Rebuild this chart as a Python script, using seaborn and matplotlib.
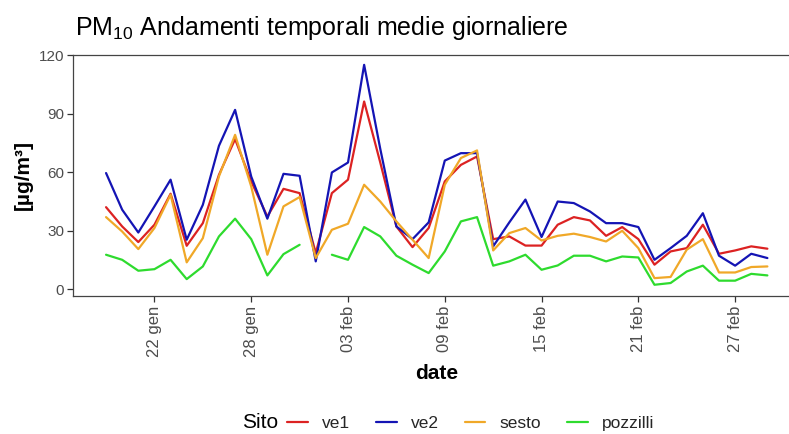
import numpy as np
import pandas as pd
import matplotlib
matplotlib.use("Agg")
import matplotlib.pyplot as plt
import seaborn as sns

# ---------------- data ----------------
start_date = "2020-01-19"
end_date = "2020-02-29"
sites = ["ve1", "ve2", "sesto", "pozzilli"]
colors = ["#DC2222", "#1414B4", "#F0A828", "#2EDB2E"]

ve1 = [42.1, 32.2, 24.2, 33.1, 49.0, 22.3, 33.9, 58.7, 77.0, 55.3, 37.3, 51.5, 49.3,
       18.6, 49.3, 56.2, 96.3, 65.0, 32.2, 21.6, 31.4, 55.3, 63.8, 68.1, 25.7, 27.1, 22.4,
       22.4, 33.1, 37.0, 35.3, 27.4, 31.9, 25.7, 12.6, 19.4, 21.1, 33.1, 18.2, 19.9, 22.0, 20.8]
ve2 = [59.6, 40.8, 29.1, 42.5, 56.2, 25.4, 43.3, 73.6, 92.0, 57.8, 36.2, 59.2, 58.2,
       14.3, 59.9, 65.0, 115.1, 72.0, 32.2, 25.7, 34.3, 66.0, 69.8, 69.8, 22.0, 34.3, 46.0,
       26.8, 45.0, 44.2, 39.9, 33.9, 33.9, 31.9, 15.1, 21.1, 27.4, 39.0, 17.2, 12.1, 18.2, 16.0]
sesto = [37.0, 29.6, 20.6, 31.4, 48.5, 13.8, 26.2, 57.9, 79.2, 52.7, 17.7, 42.5, 47.3,
         16.0, 30.5, 33.6, 53.6, 45.0, 34.8, 25.4, 16.0, 53.6, 67.3, 71.2, 19.9, 28.8, 31.4,
         25.0, 27.4, 28.5, 26.8, 24.5, 30.0, 21.1, 5.7, 6.3, 20.3, 25.7, 8.6, 8.6, 11.4, 11.7]
pozzilli = [17.7, 15.1, 9.5, 10.3, 15.1, 5.2, 11.7, 27.1, 36.2, 25.7, 7.1, 18.0, 22.8,
            np.nan, 17.7, 15.1, 31.9, 27.1, 17.2, 12.6, 8.3, 19.4, 34.8, 37.0, 12.1, 14.3, 17.7,
            10.0, 12.2, 17.2, 17.2, 14.3, 16.8, 16.3, 2.3, 3.2, 9.1, 12.1, 4.4, 4.4, 7.9, 7.1]

tick_dates = ["2020-01-22", "2020-01-28", "2020-02-03", "2020-02-09",
              "2020-02-15", "2020-02-21", "2020-02-27"]
tick_labels = ["22 gen", "28 gen", "03 feb", "09 feb", "15 feb", "21 feb", "27 feb"]
y_ticks = [0, 30, 60, 90, 120]

title = r"PM$_{10}$ Andamenti temporali medie giornaliere"
x_label = "date"
y_label = "[µg/m³]"
legend_title = "Sito"

# ---------------- build long table ----------------
dates = pd.date_range(start_date, end_date, freq="D")
frames = []
for s, vals in zip(sites, [ve1, ve2, sesto, pozzilli]):
    v = pd.Series(vals, dtype=float)
    seg = v.isna().cumsum()
    d = pd.DataFrame({"date": dates, "value": v.values, "Sito": s,
                      "seg": s + "_" + seg.astype(str).values})
    frames.append(d.dropna(subset=["value"]))
df = pd.concat(frames, ignore_index=True)

# ---------------- style ----------------
sns.set_theme(style="white")
plt.rcParams["font.family"] = ["Liberation Sans", "DejaVu Sans"]
plt.rcParams["mathtext.fontset"] = "custom"
plt.rcParams["mathtext.rm"] = "Liberation Sans"
plt.rcParams["mathtext.it"] = "Liberation Sans:italic"
plt.rcParams["mathtext.bf"] = "Liberation Sans:bold"

fig = plt.figure(figsize=(7.89, 4.34), dpi=100)
ax = fig.add_axes([0.0921, 0.3187, 0.9079, 0.5539])

sns.lineplot(data=df, x="date", y="value", hue="Sito", units="seg",
             estimator=None, hue_order=sites, palette=colors,
             linewidth=1.6, ax=ax)

handles, labels = ax.get_legend_handles_labels()
if ax.get_legend() is not None:
    ax.get_legend().remove()

ax.set_xlim(pd.Timestamp("2020-01-22") - pd.Timedelta(days=5.07),
            pd.Timestamp("2020-02-29") + pd.Timedelta(days=1.34))
ax.set_ylim(-3.3, 120)

ax.set_xticks(pd.to_datetime(tick_dates))
ax.set_xticklabels(tick_labels, rotation=90)
ax.set_yticks(y_ticks)
ax.set_yticklabels([str(t) for t in y_ticks])

ax.tick_params(axis="both", length=4, width=0.9, color="#333333",
               labelcolor="#4D4D4D", direction="out",
               bottom=True, left=True)
ax.tick_params(axis="x", pad=3, labelsize=12)
ax.tick_params(axis="y", pad=2, labelsize=11)

for side in ["left", "bottom", "top"]:
    ax.spines[side].set_visible(True)
    ax.spines[side].set_color("#444444")
    ax.spines[side].set_linewidth(0.9)
ax.spines["right"].set_visible(False)
ax.grid(False)

ax.set_xlabel(x_label, fontsize=15, fontweight="bold", color="black")
ax.xaxis.set_label_coords(0.508, -0.283)
ax.set_ylabel(y_label, fontsize=15, fontweight="bold", color="black")
ax.yaxis.set_label_coords(-0.056, 0.5)

fig.text(75 / 789, 1 - 28 / 434, title, fontsize=18, color="black",
         ha="left", va="center")

fig.text(242 / 789, 1 - 423 / 434, legend_title, fontsize=15, color="black",
         ha="left", va="center")
fig.legend(handles, labels, ncol=4, loc="center left",
           bbox_to_anchor=(287 / 789, 1 - 423 / 434), frameon=False,
           fontsize=12.5, handlelength=1.2, handletextpad=0.8,
           columnspacing=1.5, borderaxespad=0, borderpad=0)

fig.savefig("out.png", dpi=100)
